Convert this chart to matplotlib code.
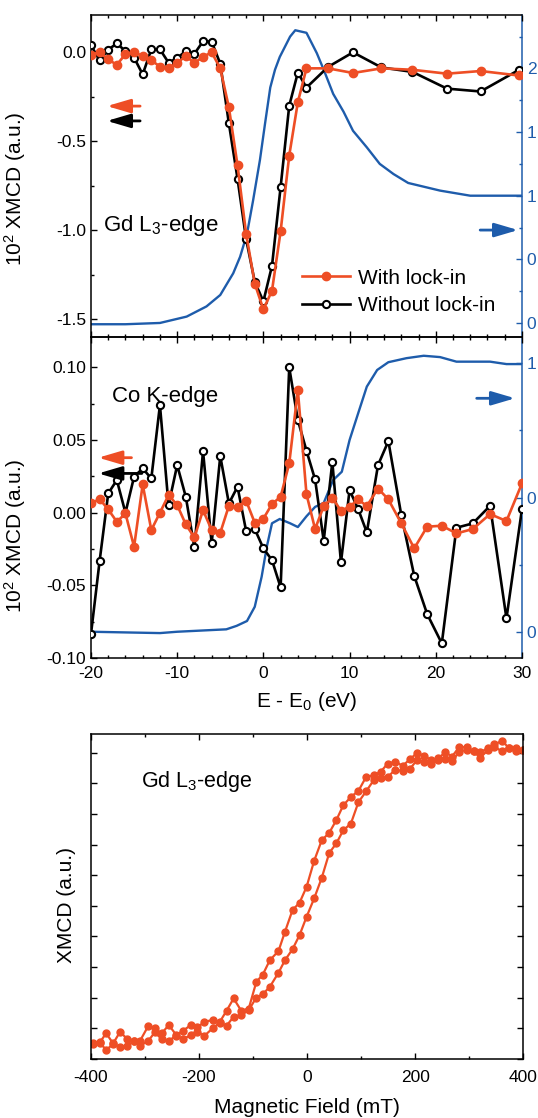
import matplotlib
matplotlib.use("Agg")
import matplotlib.pyplot as plt
from matplotlib.ticker import MultipleLocator, NullFormatter, FixedLocator, FixedFormatter

plt.rcParams['font.family'] = ['Liberation Sans', 'DejaVu Sans']
plt.rcParams['mathtext.fontset'] = 'custom'
plt.rcParams['mathtext.rm'] = 'Liberation Sans'
plt.rcParams['mathtext.it'] = 'Liberation Sans:italic'
plt.rcParams['mathtext.bf'] = 'Liberation Sans:bold'
plt.rcParams['axes.unicode_minus'] = False

# ---------------- data ----------------
# Gd L3-edge (top panel)
energy_gd = [-20, -19, -18, -17, -16, -15, -14, -13, -12, -11, -10, -9, -8, -7, -6, -5,
             -4, -3, -2, -1, 0, 1, 2, 3, 4, 5, 7.5, 10.4, 13.7, 17.3, 21.3, 25.2, 29.6]
gd_with_lockin = [-0.013, 0.0, -0.04, -0.07, -0.01, 0.0, -0.02, -0.045, -0.08, -0.09, -0.06,
                  -0.02, -0.06, -0.025, 0.0, -0.09, -0.31, -0.635, -1.02, -1.30, -1.445, -1.34,
                  -1.006, -0.58, -0.28, -0.09, -0.09, -0.116, -0.09, -0.098, -0.12, -0.105, -0.13]
gd_without_lockin = [0.04, -0.045, 0.015, 0.05, 0.007, -0.03, -0.124, 0.017, 0.017, -0.058,
                     -0.032, 0.007, -0.008, 0.062, 0.06, -0.064, -0.40, -0.71, -1.05, -1.29,
                     -1.40, -1.20, -0.757, -0.30, -0.114, -0.198, -0.082, 0.0, -0.085, -0.11,
                     -0.204, -0.22, -0.10]
energy_gd_xas = [-20, -16, -12, -8.9, -6.6, -5.0, -3.5, -2.7, -1.9, -1.2, -0.4, 0.2, 0.8, 1.35,
                 1.9, 3.1, 3.7, 5.0, 6.2, 7.0, 8.1, 9.3, 10.4, 12.0, 13.5, 15.1, 16.8, 20.5, 24.0, 30]
gd_xas = [-0.01, -0.01, 0.0, 0.05, 0.13, 0.22, 0.39, 0.52, 0.70, 0.96, 1.28, 1.57, 1.85, 1.99,
          2.09, 2.25, 2.30, 2.28, 2.12, 1.99, 1.80, 1.66, 1.51, 1.38, 1.25, 1.17, 1.10, 1.04, 1.00, 1.00]
gd_xas_ticks = [0.0, 0.5, 1.0, 1.5, 2.0]
gd_xas_ticklabels = ['0', '0', '1', '1', '2']   # as visible (cut by the image edge)

# Co K-edge (middle panel)
energy_co = [-20, -19, -18, -17, -16, -15, -14, -13, -12, -11, -10, -9, -8, -7, -6, -5, -4, -3,
             -2, -1, 0, 1, 2, 3, 4, 5, 6, 7, 8, 9, 10, 11, 12, 13.3, 14.5, 16, 17.5, 19, 20.7,
             22.4, 24.3, 26.3, 28.2, 30]
co_with_lockin = [0.0064, 0.0094, 0.0023, -0.0062, -0.0005, -0.0234, 0.0195, -0.0119, 0.0, 0.0122,
                  0.0053, -0.008, -0.017, 0.0018, -0.0119, -0.0138, 0.0048, 0.0041, 0.0083, -0.0069,
                  -0.0041, 0.006, 0.011, 0.034, 0.0844, 0.0128, -0.0112, 0.0046, 0.0103, 0.0014,
                  0.0041, 0.0092, 0.0046, 0.0167, 0.0092, -0.0073, -0.0245, -0.0096, -0.0089,
                  -0.0142, -0.0112, -0.0009, -0.0057, 0.0202]
co_without_lockin = [-0.0835, -0.0333, 0.0133, 0.0225, 0.0, 0.0248, 0.0305, 0.0236, 0.0741, 0.0053,
                     0.0328, 0.011, -0.0239, 0.0424, -0.0211, 0.039, 0.0064, 0.0179, -0.0126, -0.0112,
                     -0.0245, -0.0326, -0.0514, 0.1, 0.0638, 0.0427, 0.0229, -0.0193, 0.0351, -0.0342,
                     0.0156, 0.0025, -0.0135, 0.0328, 0.0493, -0.0016, -0.0434, -0.0697, -0.0899,
                     -0.0103, -0.0073, 0.0048, -0.0727, 0.0025]
energy_co_xas = [-20, -12, -10, -4.3, -3.1, -1.9, -1.0, -0.2, 0.4, 1.0, 1.9, 3.1, 4.0, 5.0, 6.0,
                 7.0, 8.1, 9.1, 10.0, 11.0, 12.0, 13.2, 14.5, 16.6, 18.6, 20.5, 22.4, 26.3, 28.2, 30]
co_xas = [0.0, -0.005, 0.0, 0.009, 0.022, 0.04, 0.093, 0.205, 0.317, 0.404, 0.42, 0.404, 0.39,
          0.43, 0.465, 0.48, 0.565, 0.596, 0.714, 0.814, 0.913, 0.975, 1.004, 1.019, 1.028,
          1.023, 1.006, 1.006, 0.997, 0.997]
co_xas_ticks = [0.0, 0.5, 1.0]
co_xas_ticklabels = ['0', '0', '1']   # as visible (cut by the image edge)

# Hysteresis loop (bottom panel)
field_mT = [-396, -384, -372, -359, -346, -333, -321, -309, -294, -282, -269, -256, -242, -230,
            -215, -203, -190, -175, -162, -149, -136, -122, -108, -94, -82, -69, -53, -41, -27,
            -14, -1, 13, 27, 41, 54, 67, 81, 95, 109, 123, 136, 149, 163, 177, 190, 203, 216,
            229, 242, 256, 268, 282, 295, 308, 320, 334, 346, 361, 373, 386, 399]
xmcd_branch_left = [-0.52, -0.48, -0.17, -0.50, -0.12, -0.36, -0.41, -0.41, 0.07, -0.01, -0.17,
                    0.10, -0.23, -0.09, 0.10, 0.02, 0.21, 0.26, 0.19, 0.57, 0.97, 0.57, 0.64, 1.51,
                    1.75, 2.22, 2.52, 3.15, 3.86, 4.10, 4.62, 5.47, 6.14, 6.39, 6.80, 7.29, 7.56,
                    7.76, 8.21, 8.27, 8.38, 8.65, 8.71, 8.58, 8.79, 8.99, 8.91, 8.77, 8.82, 9.02,
                    8.88, 9.20, 9.18, 9.06, 9.02, 9.15, 9.28, 9.39, 9.17, 9.17, 9.10]
xmcd_branch_right = [-0.50, -0.46, -0.72, -0.52, -0.63, -0.59, -0.43, -0.58, -0.42, -0.14, -0.36,
                     -0.41, -0.25, -0.36, -0.23, -0.12, -0.25, -0.01, 0.17, 0.08, 0.37, 0.42, 0.59,
                     1.00, 1.11, 1.35, 1.81, 2.22, 2.58, 3.04, 3.64, 4.24, 4.91, 5.73, 6.04, 6.47,
                     6.69, 7.39, 7.74, 8.10, 8.18, 8.21, 8.45, 8.41, 8.47, 8.76, 8.71, 8.63, 8.78,
                     8.80, 8.75, 9.03, 9.11, 9.06, 8.84, 9.08, 9.19, 9.06, 9.15, 9.06, 9.10]

ORANGE = '#EE4E25'
BLUE = '#1E5CAB'
TICK_FS = 12.5
LABEL_FS = 15

fig = plt.figure(figsize=(5.38, 11.18), dpi=100)
ax1 = fig.add_axes([0.1691, 0.6986, 0.8011, 0.2880])
ax2 = fig.add_axes([0.1691, 0.4114, 0.8011, 0.2872])
ax3 = fig.add_axes([0.1691, 0.0528, 0.8035, 0.2907])


def style_common(ax):
    for sp in ax.spines.values():
        sp.set_linewidth(1.1)
    ax.tick_params(which='both', direction='in', top=True, labelsize=TICK_FS, width=1.0)
    ax.tick_params(which='major', length=4.5)
    ax.tick_params(which='minor', length=2.5)


def xmcd_panel(ax, x, with_l, without_l, xas_x, xas_y, ylim, yr, y_major, y_minor,
               r_major, r_minor, r_labels):
    style_common(ax)
    ax.plot(x, without_l, color='black', lw=1.9, marker='o', ms=5.2, mfc='white',
            mec='black', mew=1.5, label='Without lock-in', zorder=3)
    ax.plot(x, with_l, color=ORANGE, lw=1.9, marker='o', ms=6.0, mfc=ORANGE,
            mec=ORANGE, label='With lock-in', zorder=4)
    ax.set_xlim(-20, 30)
    ax.set_ylim(*ylim)
    ax.xaxis.set_major_locator(MultipleLocator(10))
    ax.xaxis.set_minor_locator(MultipleLocator(2))
    ax.yaxis.set_major_locator(MultipleLocator(y_major))
    ax.yaxis.set_minor_locator(MultipleLocator(y_minor))
    ax.tick_params(axis='y', right=False, which='both')
    ax.tick_params(axis='x', pad=6)
    ax.spines['right'].set_visible(False)
    tw = ax.twinx()
    tw.plot(xas_x, xas_y, color=BLUE, lw=1.7, zorder=1)
    tw.set_ylim(*yr)
    tw.yaxis.set_major_locator(FixedLocator(r_major))
    tw.yaxis.set_major_formatter(FixedFormatter(r_labels))
    tw.yaxis.set_minor_locator(FixedLocator(r_minor))
    tw.tick_params(axis='y', which='both', direction='in', colors=BLUE, labelsize=TICK_FS,
                   width=1.0)
    tw.tick_params(axis='y', which='major', length=4.5)
    tw.tick_params(axis='y', which='minor', length=2.5)
    for name, sp in tw.spines.items():
        sp.set_linewidth(1.1)
        if name != 'right':
            sp.set_visible(False)
    tw.spines['right'].set_color(BLUE)
    ax.set_zorder(tw.get_zorder() + 1)
    ax.patch.set_visible(False)
    return tw


def arrow(ax, x0, x1, y, color):
    ax.annotate('', xy=(x1, y), xytext=(x0, y), xycoords='axes fraction',
                textcoords='axes fraction',
                arrowprops=dict(arrowstyle='-|>,head_length=0.95,head_width=0.28',
                                mutation_scale=15, color=color, lw=2.0,
                                shrinkA=0, shrinkB=0))


# ---- top panel ----
tw1 = xmcd_panel(ax1, energy_gd, gd_with_lockin, gd_without_lockin, energy_gd_xas, gd_xas,
                 (-1.60, 0.21), (-0.11, 2.42), 0.5, 0.25,
                 gd_xas_ticks, [0.25, 0.75, 1.25, 1.75, 2.25], gd_xas_ticklabels)
ax1.yaxis.set_major_formatter(matplotlib.ticker.FormatStrFormatter('%.1f'))
ax1.tick_params(axis='x', labelbottom=False)
ax1.set_ylabel(r'10$^{\mathrm{2}}$ XMCD (a.u.)', fontsize=LABEL_FS)
ax1.yaxis.set_label_coords(-0.145, 0.46)
ax1.text(0.028, 0.345, r'Gd L$_{\mathrm{3}}$-edge', transform=ax1.transAxes, fontsize=16,
         va='center', ha='left')
handles, labels = ax1.get_legend_handles_labels()
ax1.legend(handles[::-1], labels[::-1], loc='lower left', bbox_to_anchor=(0.49, 0.068),
           frameon=False, fontsize=LABEL_FS, handlelength=2.3, handletextpad=0.4,
           labelspacing=0.4, borderpad=0, borderaxespad=0)
arrow(ax1, 0.114, 0.037, 0.717, ORANGE)
arrow(ax1, 0.114, 0.037, 0.671, 'black')
arrow(ax1, 0.903, 0.991, 0.332, BLUE)

# ---- middle panel ----
tw2 = xmcd_panel(ax2, energy_co, co_with_lockin, co_without_lockin, energy_co_xas, co_xas,
                 (-0.10, 0.121), (-0.098, 1.098), 0.05, 0.025,
                 co_xas_ticks, [0.25, 0.75], co_xas_ticklabels)
ax2.yaxis.set_major_formatter(matplotlib.ticker.FormatStrFormatter('%.2f'))
ax2.set_xlabel(r'E - E$_{\mathrm{0}}$ (eV)', fontsize=LABEL_FS, labelpad=6)
ax2.set_ylabel(r'10$^{\mathrm{2}}$ XMCD (a.u.)', fontsize=LABEL_FS)
ax2.yaxis.set_label_coords(-0.145, 0.38)
ax2.text(0.048, 0.815, 'Co K-edge', transform=ax2.transAxes, fontsize=16,
         va='center', ha='left')
arrow(ax2, 0.094, 0.017, 0.624, ORANGE)
arrow(ax2, 0.118, 0.017, 0.575, 'black')
arrow(ax2, 0.895, 0.984, 0.809, BLUE)

# ---- bottom panel ----
style_common(ax3)
ax3.tick_params(which='both', right=True)
ax3.tick_params(axis='x', pad=8)
ax3.plot(field_mT, xmcd_branch_left, color=ORANGE, lw=1.6, marker='o', ms=5.0, mec=ORANGE)
ax3.plot(field_mT, xmcd_branch_right, color=ORANGE, lw=1.6, marker='o', ms=5.0, mec=ORANGE)
ax3.set_xlim(-400, 400)
ax3.set_ylim(-1.01, 9.62)
ax3.xaxis.set_major_locator(MultipleLocator(200))
ax3.xaxis.set_minor_locator(MultipleLocator(100))
ax3.yaxis.set_major_locator(MultipleLocator(1))
ax3.yaxis.set_major_formatter(NullFormatter())
ax3.set_xlabel('Magnetic Field (mT)', fontsize=LABEL_FS, labelpad=9)
ax3.set_ylabel('XMCD (a.u.)', fontsize=LABEL_FS)
ax3.yaxis.set_label_coords(-0.035, 0.474)
ax3.text(0.115, 0.855, r'Gd L$_{\mathrm{3}}$-edge', transform=ax3.transAxes, fontsize=15.5,
         va='center', ha='left')

fig.savefig('out.png', dpi=100)
